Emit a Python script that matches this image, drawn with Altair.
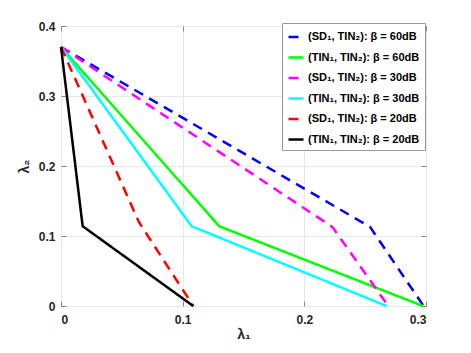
import altair as alt
import pandas as pd

series = [
    "(SD₁, TIN₂): β = 60dB",
    "(TIN₁, TIN₂): β = 60dB",
    "(SD₁, TIN₂): β = 30dB",
    "(TIN₁, TIN₂): β = 30dB",
    "(SD₁, TIN₂): β = 20dB",
    "(TIN₁, TIN₂): β = 20dB",
]
colors = ["#0000ff", "#00ff00", "#ff00ff", "#00ffff", "#ff0000", "#000000"]
dashes = [[10, 7], [1, 0], [10, 7], [1, 0], [10, 7], [1, 0]]

# lambda_1 / lambda_2 corner points of each region
sd_60_x = [0.0, 0.254, 0.298]
sd_60_y = [0.37, 0.113, 0.0]
tin_60_x = [0.0, 0.130, 0.2975]
tin_60_y = [0.37, 0.114, 0.0]
sd_30_x = [0.0, 0.223, 0.269]
sd_30_y = [0.37, 0.113, 0.0]
tin_30_x = [0.0, 0.1074, 0.2676]
tin_30_y = [0.37, 0.114, 0.0]
sd_20_x = [0.0, 0.064, 0.1087]
sd_20_y = [0.37, 0.12, 0.0]
tin_20_x = [0.0, 0.0178, 0.1087]
tin_20_y = [0.37, 0.114, 0.0]

x_ticks = [0, 0.1, 0.2, 0.3]
y_ticks = [0, 0.1, 0.2, 0.3, 0.4]

xs = [sd_60_x, tin_60_x, sd_30_x, tin_30_x, sd_20_x, tin_20_x]
ys = [sd_60_y, tin_60_y, sd_30_y, tin_30_y, sd_20_y, tin_20_y]
rows = []
for s, xv, yv in zip(series, xs, ys):
    for i, (a, b) in enumerate(zip(xv, yv)):
        rows.append({"series": s, "idx": i, "x": a, "y": b})
df = pd.DataFrame(rows)

FONT = "Liberation Sans"
TXT = "#262626"

legend = alt.Legend(
    title=None, orient="none", legendX=221, legendY=-3,
    fillColor="white", strokeColor="#999999", padding=5,
    symbolType="stroke", symbolSize=225, symbolStrokeWidth=2.5,
    labelFont=FONT, labelFontSize=11, labelFontWeight="bold",
    labelColor="black", labelOffset=3, rowPadding=6.5, labelLimit=300,
)

xscale = alt.Scale(domain=[0, 0.3], nice=False, zero=False)
yscale = alt.Scale(domain=[0, 0.4], nice=False, zero=False)

lines = alt.Chart(df).mark_line(strokeWidth=2.5, strokeCap="butt").encode(
    x=alt.X("x:Q", scale=xscale, title="λ₁",
            axis=alt.Axis(values=x_ticks, format="~g", offset=-5, tickSize=5,
                          tickColor="#888888", domain=False, grid=True,
                          gridColor="#e8e8e8", labelPadding=8,
                          labelFont=FONT, labelFontSize=12, labelFontWeight="bold",
                          labelColor=TXT, titleFont=FONT, titleFontSize=14,
                          titleFontWeight="bold", titleColor=TXT, titlePadding=2)),
    y=alt.Y("y:Q", scale=yscale, title="λ₂",
            axis=alt.Axis(values=y_ticks, format="~g", offset=-5, tickSize=5,
                          tickColor="#888888", domain=False, grid=True,
                          gridColor="#e8e8e8", labelPadding=6,
                          labelFont=FONT, labelFontSize=12, labelFontWeight="bold",
                          labelColor=TXT, titleFont=FONT, titleFontSize=14,
                          titleFontWeight="bold", titleColor=TXT, titlePadding=7)),
    color=alt.Color("series:N", scale=alt.Scale(domain=series, range=colors), legend=legend),
    strokeDash=alt.StrokeDash("series:N", scale=alt.Scale(domain=series, range=dashes), legend=legend),
    order=alt.Order("idx:Q"),
)

frame_ticks = alt.Chart(df).mark_line(opacity=0).encode(
    x=alt.X("x:Q", scale=xscale,
            axis=alt.Axis(orient="top", values=x_ticks, labels=False, offset=-5,
                          tickSize=5, tickColor="#888888", domain=False, grid=False, title=None)),
    y=alt.Y("y:Q", scale=yscale,
            axis=alt.Axis(orient="right", values=y_ticks, labels=False, offset=-5,
                          tickSize=5, tickColor="#888888", domain=False, grid=False, title=None)),
    detail="series:N",
)

chart = alt.layer(lines, frame_ticks).resolve_axis(
    x="independent", y="independent"
).properties(
    width=365, height=280,
    autosize=alt.AutoSizeParams(type="none"),
    padding={"left": 53, "top": 18, "right": 25, "bottom": 38},
).configure_view(stroke="#999999", strokeWidth=1)

chart.save("out.html", embed_options={"renderer": "svg", "actions": False})
